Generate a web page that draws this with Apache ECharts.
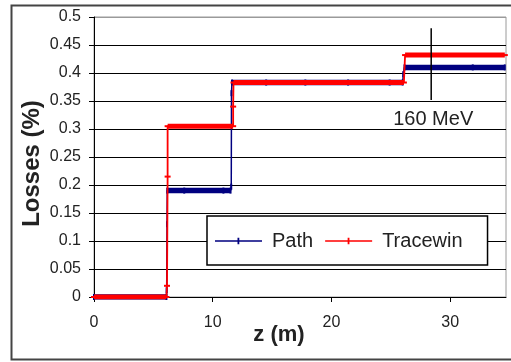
<!DOCTYPE html>
<html>
<head>
<meta charset="utf-8">
<script src="https://cdn.jsdelivr.net/npm/echarts@6/dist/echarts.min.js"></script>
<style>
html,body{margin:0;padding:0;background:#fff;}
#chart{width:511px;height:362px;}
</style>
</head>
<body>
<div id="chart"></div>
<script>
// ---- data ----
const zPath    = [0, 6.1, 6.12, 6.15, 6.17, 7.6, 10.9, 11.5, 11.56, 11.58, 11.62, 14.5, 17.8, 21.4, 24.9, 26.0, 26.05, 26.15, 31.9, 34.6];
const lossPath = [0, 0, 0.012, 0.13, 0.19, 0.19, 0.19, 0.19, 0.197, 0.364, 0.383, 0.383, 0.383, 0.383, 0.383, 0.383, 0.398, 0.41, 0.41, 0.41];

const zTrace    = [0, 6.1, 6.15, 6.2, 6.2, 7.6, 10.9, 11.72, 11.72, 11.75, 14.5, 17.8, 21.4, 24.9, 26.1, 26.2, 31.9, 34.6];
const lossTrace = [0, 0, 0.02, 0.215, 0.305, 0.305, 0.305, 0.305, 0.34, 0.383, 0.383, 0.383, 0.383, 0.383, 0.383, 0.432, 0.432, 0.432];

const markerZ = [28.4, 28.4];
const markerLoss = [0.48, 0.352];
const markerText = '160 MeV';

const xTicks = { min: 0, max: 34.7, interval: 10 };
const yTicks = { min: 0, max: 0.5, interval: 0.05 };
const seriesNames = ['Path', 'Tracewin'];
const axisNames = { x: 'z (m)', y: 'Losses (%)' };

// ---- helpers ----
function pairs(xs, ys) { return xs.map((x, i) => [x, ys[i]]); }
function flats(xs, ys) {
  const out = [];
  for (let i = 0; i < xs.length - 1; i++) {
    if (ys[i] === ys[i + 1]) {
      const last = out[out.length - 1];
      if (!(last && last[0] === xs[i] && last[1] === ys[i])) {
        if (out.length) out.push([xs[i], '-']);
        out.push([xs[i], ys[i]]);
      }
      out.push([xs[i + 1], ys[i + 1]]);
    }
  }
  return out;
}

const FONT = 'Liberation Sans, Arial, sans-serif';
const BLUE = '#000080';
const RED = '#ff0000';

const chart = echarts.init(document.getElementById('chart'), null, { renderer: 'canvas' });
const splitColors = [];
for (let i = 0; i <= 10; i++) splitColors.push(i === 10 ? '#9a9a9a' : '#000');

chart.setOption({
  animation: false,
  backgroundColor: '#fff',
  graphic: [{
    type: 'rect', left: 9, top: 3, z: -1,
    shape: { x: 0, y: 0, width: 520, height: 354 },
    style: { fill: 'none', stroke: '#444', lineWidth: 2 }
  }],
  grid: { left: 94, top: 17, right: 5, bottom: 65, show: true, borderColor: '#9a9a9a', borderWidth: 1, backgroundColor: '#fff' },
  legend: {
    left: 207, top: 216,
    data: [
      { name: seriesNames[0], icon: 'path://M0,4h47v1.4H0z M22.5,1.5h1.8v6.5h-1.8z', itemStyle: { color: BLUE } },
      { name: seriesNames[1], icon: 'path://M0,4h47v1.4H0z M22.5,1.5h1.8v6.5h-1.8z', itemStyle: { color: RED } }
    ],
    itemWidth: 47, itemHeight: 9, itemGap: 12,
    padding: [15, 25, 14, 8],
    backgroundColor: '#fff', borderColor: '#000', borderWidth: 1.5, borderRadius: 0,
    textStyle: { fontFamily: FONT, fontSize: 20, color: '#222', padding: [0, 0, 0, 5] }
  },
  xAxis: {
    type: 'value', min: xTicks.min, max: xTicks.max, interval: xTicks.interval,
    name: axisNames.x, nameLocation: 'middle', nameGap: 27, nameMoveOverlap: false,
    nameTextStyle: { fontFamily: FONT, fontSize: 22, fontWeight: 'bold', color: '#222', padding: [0, 42, 0, 0] },
    axisLine: { lineStyle: { color: '#000', width: 1 } },
    axisTick: { show: true, length: 5, lineStyle: { color: '#000' } },
    axisLabel: { fontFamily: FONT, fontSize: 16, color: '#222', margin: 18, showMaxLabel: false },
    splitLine: { show: false }
  },
  yAxis: {
    type: 'value', min: yTicks.min, max: yTicks.max, interval: yTicks.interval,
    name: axisNames.y, nameLocation: 'middle', nameGap: 50, nameRotate: 90, nameMoveOverlap: false,
    nameTextStyle: { fontFamily: FONT, fontSize: 24, fontWeight: 'bold', color: '#222', padding: [0, 13, 0, 0] },
    axisLine: { show: true, lineStyle: { color: '#000', width: 1 } },
    axisTick: { show: true, length: 5, lineStyle: { color: '#000' } },
    axisLabel: { fontFamily: FONT, fontSize: 16, color: '#222', margin: 13,
      formatter: v => String(Math.round(v * 100) / 100) },
    splitLine: { show: true, lineStyle: { color: splitColors, width: 1 } }
  },
  series: [
    {
      name: seriesNames[0], type: 'line', data: pairs(zPath, lossPath),
      lineStyle: { color: BLUE, width: 1.5 }, itemStyle: { color: BLUE },
      symbol: 'rect', symbolSize: [2, 6], showSymbol: true, z: 2
    },
    {
      name: seriesNames[0] + ' ', type: 'line', data: flats(zPath, lossPath),
      lineStyle: { color: BLUE, width: 5.5 }, symbol: 'none', z: 2, connectNulls: false
    },
    {
      name: seriesNames[1], type: 'line', data: pairs(zTrace, lossTrace),
      lineStyle: { color: RED, width: 1.8 }, itemStyle: { color: RED },
      symbol: 'rect', symbolSize: [6, 2], showSymbol: true, z: 3
    },
    {
      name: seriesNames[1] + ' ', type: 'line', data: flats(zTrace, lossTrace),
      lineStyle: { color: RED, width: 5 }, symbol: 'none', z: 3, connectNulls: false
    },
    {
      name: 'marker', type: 'line', data: pairs(markerZ, markerLoss),
      lineStyle: { color: '#000', width: 1.5 }, symbol: 'none', z: 4,
      markPoint: {
        symbol: 'rect', symbolSize: 0,
        data: [{ coord: [markerZ[1], markerLoss[1]], value: markerText }],
        label: { show: true, position: 'bottom', distance: 10, offset: [2, 0], formatter: markerText,
          fontFamily: FONT, fontSize: 20, color: '#222' }
      }
    }
  ]
});
</script>
</body>
</html>
